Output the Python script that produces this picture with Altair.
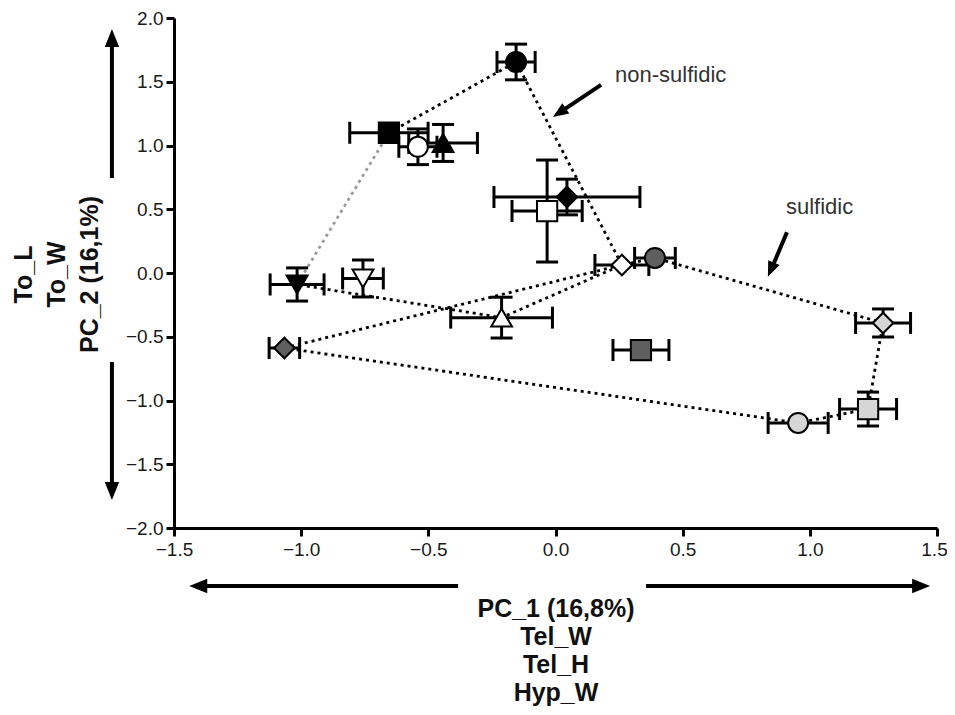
import altair as alt
import pandas as pd

# ---------------- data ----------------
labels = ["ns1", "ns2", "ns3", "ns4", "ns5", "ns6", "ns7", "s1",
          "ns8", "ns9", "ns10", "s2", "s3", "s4", "s5", "s6"]
pc1 = [-0.155, -0.655, -0.541, -0.442, 0.045, -0.033, 0.261, 0.391,
       -1.016, -0.757, -0.212, -1.066, 0.336, 1.288, 1.229, 0.954]
pc2 = [1.655, 1.100, 0.990, 1.020, 0.596, 0.486, 0.063, 0.118,
       -0.090, -0.043, -0.350, -0.588, -0.604, -0.392, -1.067, -1.176]
pc1_err = [0.075, 0.154, 0.075, 0.135, 0.287, 0.138, 0.106, 0.080,
           0.106, 0.080, 0.200, 0.060, 0.110, 0.108, 0.112, 0.118]
pc2_err = [0.140, 0.0, 0.140, 0.145, 0.140, 0.400, 0.0, 0.0,
           0.130, 0.145, 0.160, 0.0, 0.0, 0.110, 0.133, 0.0]
shapes = ["circle", "square", "circle", "triangle-up", "diamond", "square", "diamond", "circle",
          "triangle-down", "triangle-down", "triangle-up", "diamond", "square", "diamond", "square", "circle"]
fills = ["#000000", "#000000", "#ffffff", "#000000", "#000000", "#ffffff", "#ffffff", "#5f5f5f",
         "#000000", "#ffffff", "#ffffff", "#5f5f5f", "#5f5f5f", "#d6d6d6", "#d6d6d6", "#d6d6d6"]

# hull outlines (dotted lines)
nonsulfidic_path = ["ns2", "ns1", "ns7", "ns10", "ns8"]
link_path = ["ns8", "ns2"]
sulfidic_path = ["s2", "ns7", "s1", "s4", "s5", "s6", "s2"]

# annotation texts
ann_text = ["non-sulfidic", "sulfidic"]
ann_x = [0.234, 0.906]
ann_y = [1.553, 0.518]

# arrows: tail -> neck (shaft), tip (head)
arrow_group = ["axis", "axis", "axis", "axis", "note", "note"]
arrow_tail_x = [-1.744, -1.744, -0.383, 0.356, 0.179, 0.910]
arrow_tail_y = [0.745, -0.698, -2.455, -2.455, 1.475, 0.320]
arrow_neck_x = [-1.744, -1.744, -1.400, 1.434, 0.023, 0.851]
arrow_neck_y = [1.836, -1.702, -2.455, -2.455, 1.267, 0.041]
arrow_tip_x = [-1.744, -1.744, -1.440, 1.473, -0.010, 0.835]
arrow_tip_y = [1.914, -1.780, -2.455, -2.455, 1.224, -0.030]
arrow_angle = [0, 180, 270, 90, 236, 203]

x_ticks = [-1.5, -1.0, -0.5, 0.0, 0.5, 1.0, 1.5]
y_ticks = [-2.0, -1.5, -1.0, -0.5, 0.0, 0.5, 1.0, 1.5, 2.0]

# ---------------- tables ----------------
pts = pd.DataFrame({"label": labels, "x": pc1, "y": pc2, "xe": pc1_err, "ye": pc2_err,
                    "shape": shapes, "fill": fills})
pts["xlo"] = pts.x - pts.xe
pts["xhi"] = pts.x + pts.xe
pts["ylo"] = pts.y - pts.ye
pts["yhi"] = pts.y + pts.ye
vb = pts[pts.ye > 0]

lookup = pts.set_index("label")
rows = []
for pid, (path, col) in enumerate([(nonsulfidic_path, "#000000"), (link_path, "#9a9a9a"),
                                   (sulfidic_path, "#000000")]):
    for k, lab in enumerate(path):
        rows.append({"path": pid, "order": k, "x": lookup.loc[lab, "x"],
                     "y": lookup.loc[lab, "y"], "col": col})
lines = pd.DataFrame(rows)

hcaps = pd.concat([pd.DataFrame({"x": pts.xlo, "y": pts.y}), pd.DataFrame({"x": pts.xhi, "y": pts.y})])
vcaps = pd.concat([pd.DataFrame({"x": vb.x, "y": vb.ylo}), pd.DataFrame({"x": vb.x, "y": vb.yhi})])

arrows = pd.DataFrame({"g": arrow_group, "tx": arrow_tail_x, "ty": arrow_tail_y,
                       "nx": arrow_neck_x, "ny": arrow_neck_y,
                       "px": arrow_tip_x, "py": arrow_tip_y, "ang": arrow_angle})
notes = pd.DataFrame({"t": ann_text, "x": ann_x, "y": ann_y})

# ---------------- scales / axes ----------------
FONT = "Liberation Sans"
xs = alt.Scale(domain=[-1.5, 1.5], nice=False, zero=False)
ys = alt.Scale(domain=[-2.0, 2.0], nice=False, zero=False)
xax = alt.Axis(values=x_ticks, format=".1f", grid=False, domainColor="#000", domainWidth=3,
               tickColor="#000", tickWidth=3, tickSize=8, labelFontSize=19, labelColor="#1a1a1a",
               labelFont=FONT, labelPadding=4, labelFlush=False, labelOverlap=False,
               labelOffset={"condition": {"test": "datum.value >= 1.5", "value": -3}, "value": 0},
               title=["PC_1 (16,8%)", "Tel_W", "Tel_H", "Hyp_W"], titleFont=FONT,
               titleFontSize=25, titleFontWeight="bold", titleColor="#111",
               titleLineHeight=28, titleBaseline="alphabetic", titleAlign="center",
               titleX=381.5, titleY=88)
yax = alt.Axis(values=y_ticks, format=".1f", grid=False, domainColor="#000", domainWidth=3,
               tickColor="#000", tickWidth=3, tickSize=8, labelFontSize=19, labelColor="#1a1a1a",
               labelFont=FONT, labelPadding=3, labelFlush=False, labelOverlap=False,
               title=["To_L", "To_W", "PC_2 (16,1%)"], titleFont=FONT,
               titleFontSize=25, titleFontWeight="bold", titleColor="#111",
               titleLineHeight=33, titleBaseline="alphabetic", titleAlign="center",
               titleAngle=270, titleX=-143, titleY=256)


def X(f):
    return alt.X(f, type="quantitative", scale=xs, axis=xax)


def Y(f):
    return alt.Y(f, type="quantitative", scale=ys, axis=yax)


# ---------------- layers ----------------
hull = alt.Chart(lines).mark_line(strokeWidth=2.8, strokeDash=[3, 4]).encode(
    x=X("x"), y=Y("y"), detail="path:N", order="order:Q",
    color=alt.Color("col:N", scale=None))

hbars = alt.Chart(pts).mark_rule(strokeWidth=3, color="#000").encode(
    x=X("xlo"), x2="xhi", y=Y("y"))
vbars = alt.Chart(vb).mark_rule(strokeWidth=3, color="#000").encode(
    x=X("x"), y=Y("ylo"), y2="yhi")
hcap = alt.Chart(hcaps).mark_tick(orient="vertical", size=22, thickness=3, color="#000",
                                  opacity=1).encode(x=X("x"), y=Y("y"))
vcap = alt.Chart(vcaps).mark_tick(orient="horizontal", size=22, thickness=3, color="#000",
                                  opacity=1).encode(x=X("x"), y=Y("y"))

points = alt.Chart(pts).mark_point(filled=True, stroke="#000", strokeWidth=2, opacity=1).encode(
    x=X("x"), y=Y("y"),
    shape=alt.Shape("shape:N", scale=None),
    fill=alt.Fill("fill:N", scale=None),
    size=alt.Size("shape:N", scale=alt.Scale(
        domain=["circle", "square", "diamond", "triangle-up", "triangle-down"],
        range=[400, 441, 600, 520, 520]), legend=None))

shafts = alt.Chart(arrows).mark_rule(strokeWidth=4, color="#000").encode(
    x=X("tx"), y=Y("ty"), x2="nx", y2="ny")
HEAD = "M0,0L0.8,2L-0.8,2Z"
heads_axis = alt.Chart(arrows).transform_filter(alt.datum.g == "axis").mark_point(
    shape=HEAD, filled=True, color="#000", size=324, opacity=1).encode(
    x=X("px"), y=Y("py"), angle=alt.Angle("ang:Q", scale=None))
heads_note = alt.Chart(arrows).transform_filter(alt.datum.g == "note").mark_point(
    shape=HEAD, filled=True, color="#000", size=240, opacity=1).encode(
    x=X("px"), y=Y("py"), angle=alt.Angle("ang:Q", scale=None))

texts = alt.Chart(notes).mark_text(align="left", baseline="middle", font=FONT, fontSize=22,
                                   color="#333").encode(x=X("x"), y=Y("y"), text="t:N")

chart = alt.layer(hull, hbars, vbars, hcap, vcap, points, shafts, heads_axis, heads_note,
                  texts).properties(
    width=763, height=510,
    autosize=alt.AutoSizeParams(type="none"),
    padding={"left": 166, "top": 10, "right": 10, "bottom": 178},
    background="white",
).configure_view(stroke=None)

chart.save("out.html", embed_options={"renderer": "svg", "actions": False})
